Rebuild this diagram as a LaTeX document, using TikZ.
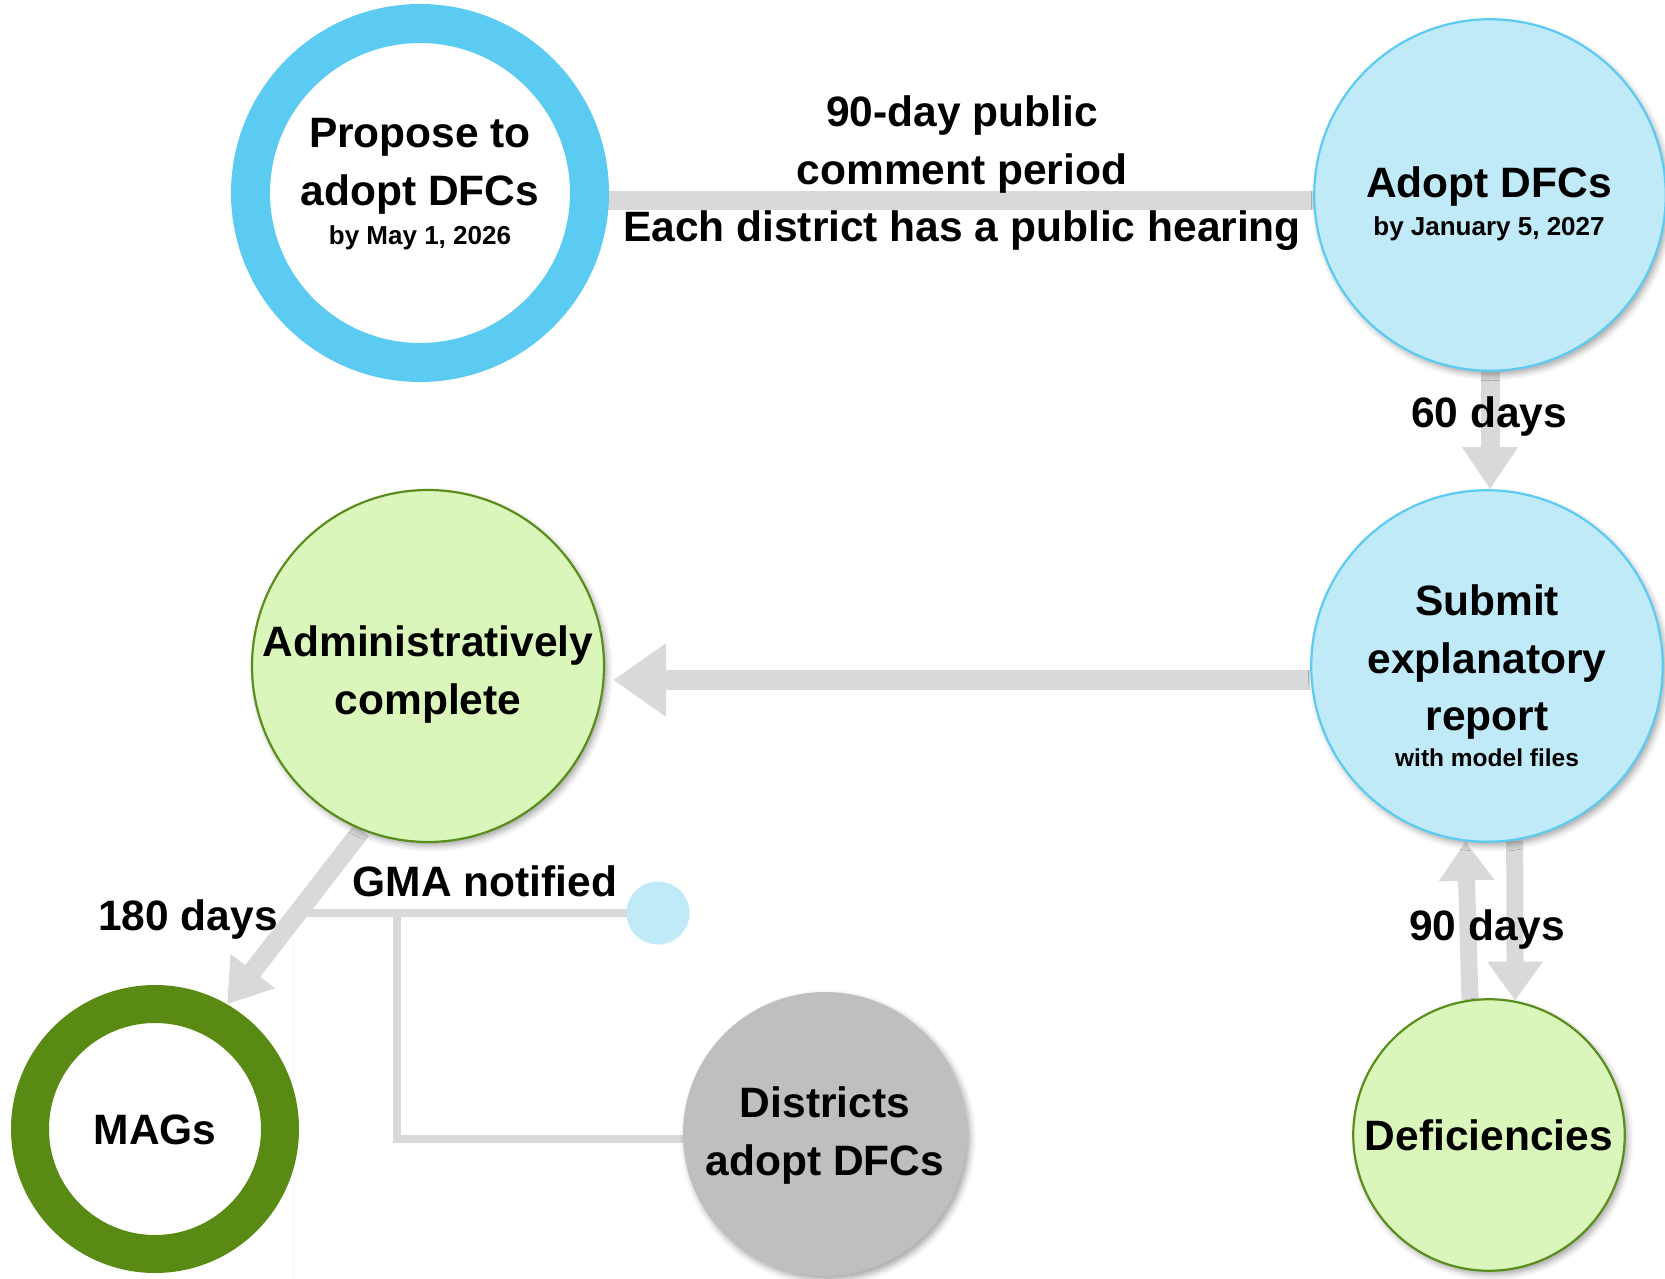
\documentclass[tikz,border=0pt]{standalone}
\usepackage{fontspec}
\setmainfont{Liberation Sans}
\usetikzlibrary{arrows.meta,shadows.blur,calc}
\definecolor{ringblue}{HTML}{5CCBF2}
\definecolor{lightblue}{HTML}{C0EAF8}
\definecolor{ringgreen}{HTML}{588A14}
\definecolor{lightgreen}{HTML}{DBF6BB}
\definecolor{bordergreen}{HTML}{5A8E1C}
\definecolor{distgray}{HTML}{BFBFBF}
\definecolor{bargray}{HTML}{D9D9D9}
\pgfdeclarelayer{bg}
\pgfsetlayers{bg,main}
\begin{document}
\begin{tikzpicture}[x=1pt,y=-1pt,
  shad/.style={blur shadow={shadow xshift=3pt,shadow yshift=-4pt,shadow blur radius=6pt,shadow opacity=35}},
  ring/.style={circle,inner sep=0pt,fill=white,shad},
  disc/.style={circle,inner sep=0pt,line width=2.2pt,shad},
  big/.style={font=\fontsize{42.5}{51}\selectfont\bfseries,anchor=base,inner sep=0pt},
  small/.style={font=\fontsize{26}{30}\selectfont\bfseries,anchor=base,inner sep=0pt},
  bar/.style={draw=bargray,line width=19pt},
  thinbar/.style={draw=bargray,line width=8pt},
  arrA/.style={draw=bargray,line width=19pt,-{Triangle[width=53pt,length=42pt]}},
  arrB/.style={draw=bargray,line width=20pt,-{Triangle[width=70pt,length=53pt]}},
  arrC/.style={draw=bargray,line width=17pt,-{Triangle[width=53pt,length=39pt]}},
]
\useasboundingbox (0,0) rectangle (1665,1279);

% circles
\node[ring, draw=ringblue, line width=39pt, minimum size=339pt] (propose) at (420,193) {};
\node[disc, draw=ringblue, fill=lightblue, minimum size=351.5pt] (adopt) at (1490,195) {};
\node[disc, draw=ringblue, fill=lightblue, minimum size=351.5pt] (submit) at (1487,666) {};
\node[disc, draw=bordergreen, fill=lightgreen, minimum size=352pt] (admin) at (428,666) {};
\node[disc, draw=bordergreen, fill=lightgreen, minimum size=271.5pt] (def) at (1489,1135) {};
\node[circle, inner sep=0pt, fill=distgray, minimum size=284pt, shad] (districts) at (825,1134) {};
\node[circle, inner sep=0pt, fill=lightblue, minimum size=63pt] (dot) at (658,913) {};
\node[ring, draw=ringgreen, line width=38pt, minimum size=250pt] (mags) at (155,1129) {};

% texts
\node[big] (tp1) at (420,148) {Propose to};
\node[big] (tp2) at (420,205) {adopt DFCs};
\node[small] (tp3) at (420,244) {by May 1, 2026};
\node[big] (ta1) at (1489,197) {Adopt DFCs};
\node[small] (ta2) at (1489,235) {by January 5, 2027};
\node[big] (tc1) at (962,127) {90-day public};
\node[big] (tc2) at (962,184) {comment period};
\node[big] (tc3) at (962,241) {Each district has a public hearing};
\node[big] (t60) at (1489,427) {60 days};
\node[big] (ts1) at (1487,615) {Submit};
\node[big] (ts2) at (1487,673) {explanatory};
\node[big] (ts3) at (1487,730) {report};
\node[small, font=\fontsize{24.5}{30}\selectfont\bfseries] (ts4) at (1487,766) {with model files};
\node[big] (tad1) at (428,656) {Administratively};
\node[big] (tad2) at (428,714) {complete};
\node[big] (tgma) at (485,896) {GMA notified};
\node[big] (t180) at (188,930) {180 days};
\node[big] (tmags) at (155,1144) {MAGs};
\node[big] (td1) at (825,1117) {Districts};
\node[big] (td2) at (825,1175) {adopt DFCs};
\node[big] (tdef) at (1489,1150) {Deficiencies};
\node[big] (t90) at (1487,940) {90 days};

% connectors
\coordinate (g) at (intersection of admin.248--mags.60 and dot.west--dot.center);
\coordinate (v) at (397,913);
\begin{pgfonlayer}{bg}
  \draw[gray!7, line width=1pt] (293,940) -- (293,1279);
  \draw[bar] ($(propose.center)+(0,7)$) -- ($(adopt.center)+(0,5)$);
  \draw[arrA] (adopt.south) -- (adopt.south |- submit.north);
  \draw[arrB] ($(submit.west)+(0,14)$) -- ($(admin.east)+(8,14)$);
  \draw[arrA] (admin.248) -- (mags.60);
  \draw[thinbar] (g) -- (dot.center);
  \draw[thinbar] (v) |- (districts.182);
  \draw[arrC] (def.98.8) -- (submit.263.8);
  \draw[arrC] (submit.279.1) -- (def.79.1);
\end{pgfonlayer}
\end{tikzpicture}
\end{document}
